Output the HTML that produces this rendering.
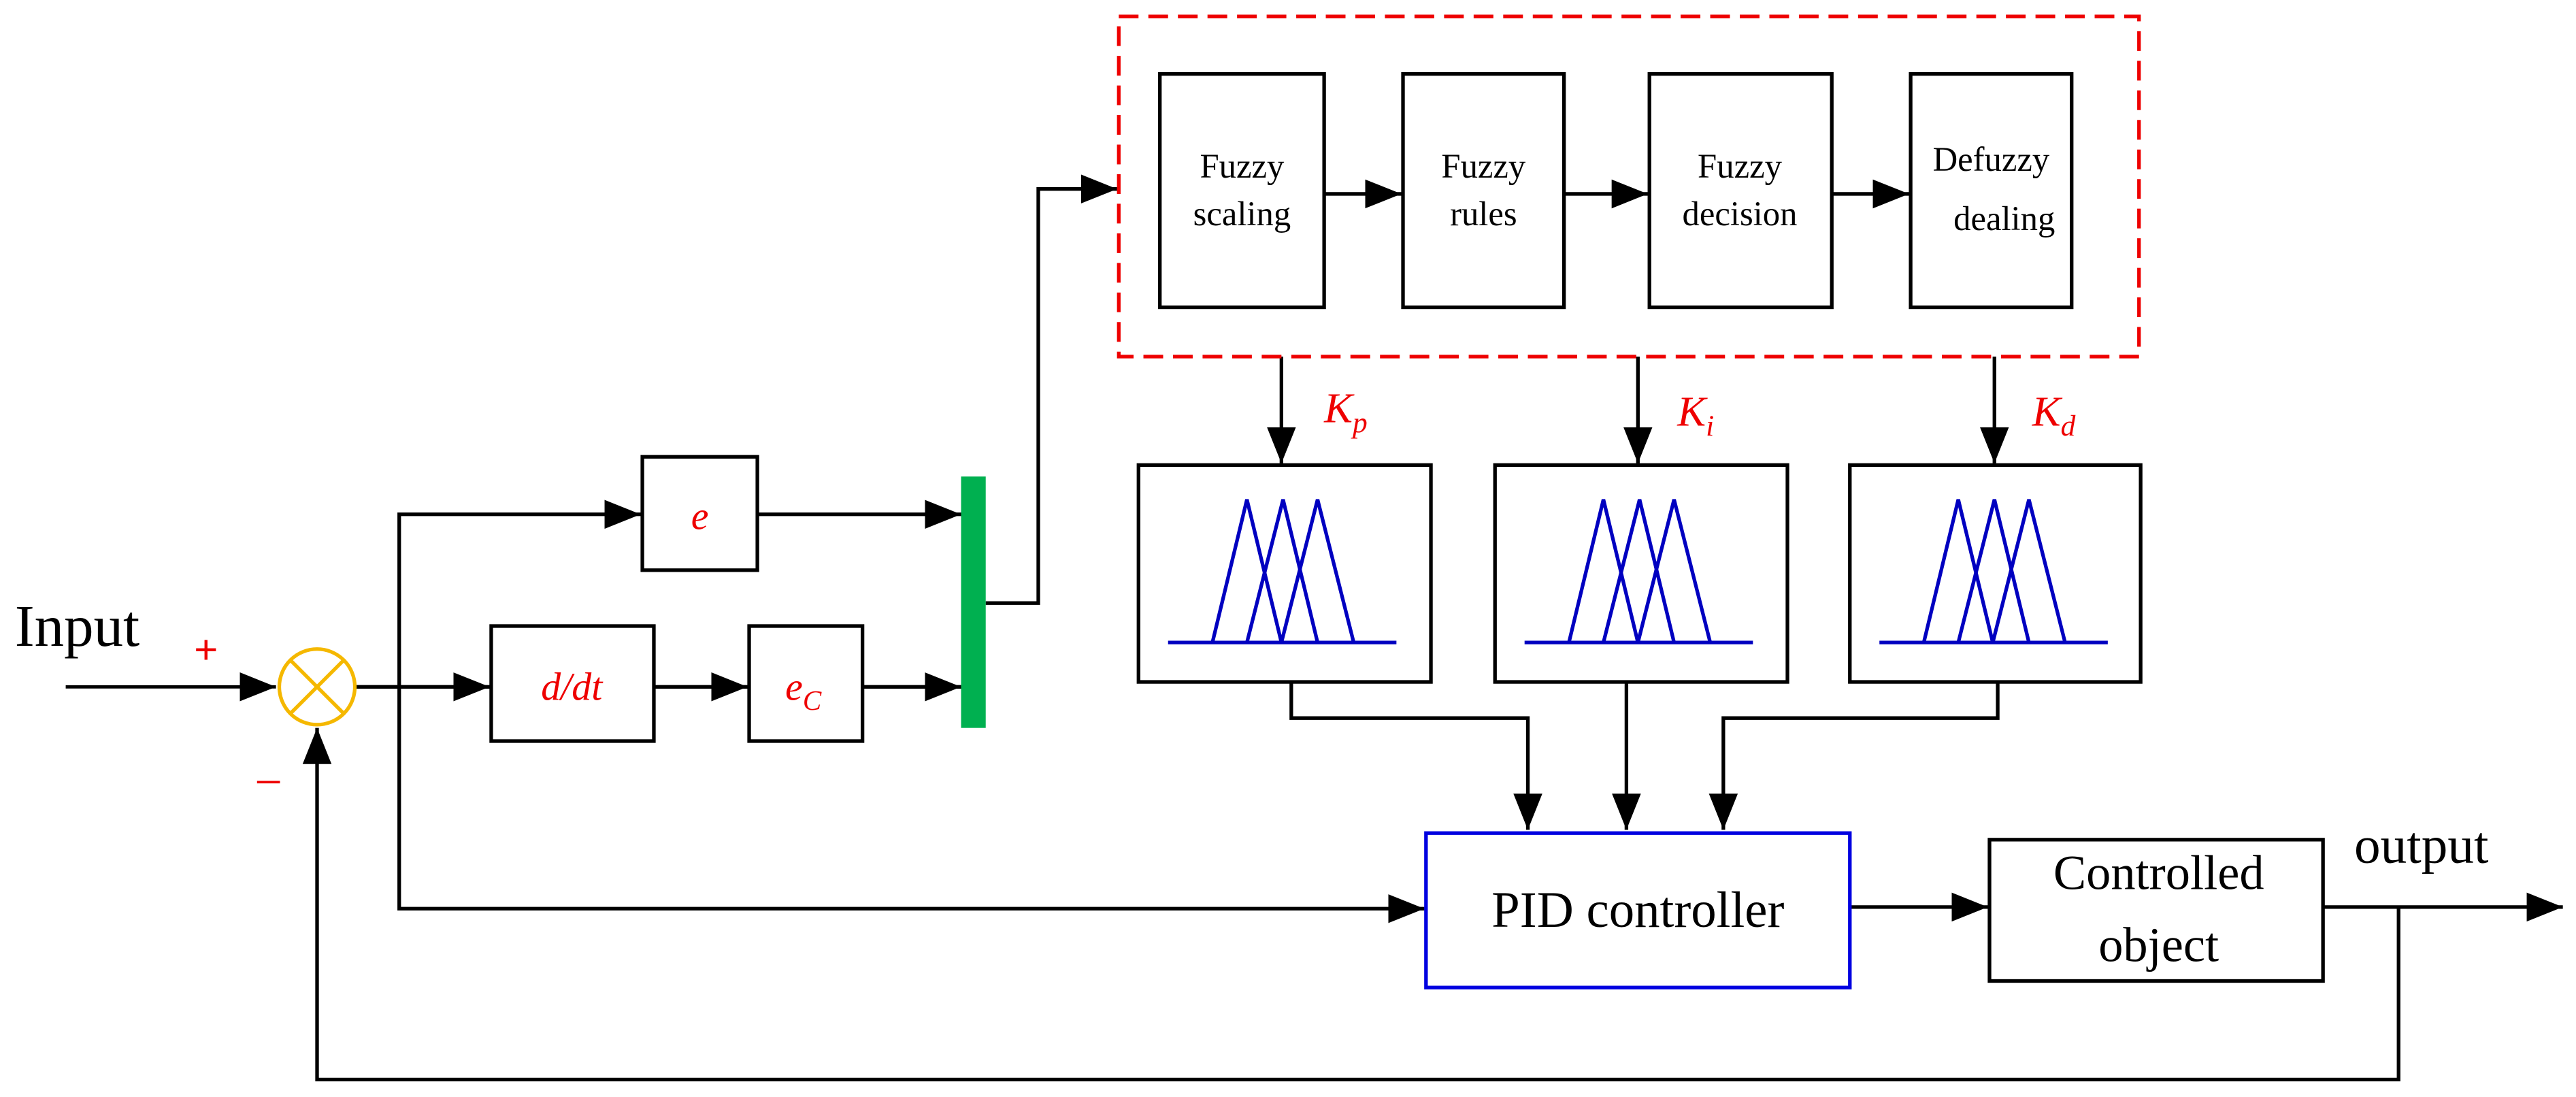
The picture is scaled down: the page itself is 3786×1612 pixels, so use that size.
<!DOCTYPE html>
<html><head><meta charset="utf-8"><style>
html,body{margin:0;padding:0;background:#fff;}
svg{display:block;}
text{font-family:"Liberation Serif",serif;}
</style></head><body>
<svg width="3786" height="1612" viewBox="0 0 1568 667.6" xmlns="http://www.w3.org/2000/svg">
<defs>
<marker id="a" markerWidth="22" markerHeight="18" refX="20" refY="8" orient="auto" markerUnits="userSpaceOnUse" viewBox="0 0 20 16">
<path d="M0,0 L20,8 L0,16 z" fill="#000"/></marker>
</defs>
<rect width="1568" height="668" fill="#fff"/>
<g stroke="#000" stroke-width="2.2" fill="none">
<path d="M40,418 H168" marker-end="url(#a)" stroke-width="2"/>
<path d="M216,418 H298" marker-end="url(#a)"/>
<path d="M243,418 V313 H390" marker-end="url(#a)"/>
<path d="M243,418 V553 H867" marker-end="url(#a)"/>
<path d="M461,313 H585" marker-end="url(#a)"/>
<path d="M398,418 H455" marker-end="url(#a)"/>
<path d="M525,418 H585" marker-end="url(#a)"/>
<path d="M600,367 H632 V115 H680" marker-end="url(#a)"/>
<rect x="391" y="278" width="70" height="69"/>
<rect x="299" y="381" width="99" height="70"/>
<rect x="456" y="381" width="69" height="70"/>
<rect x="706" y="45" width="100" height="142"/>
<rect x="854" y="45" width="98" height="142"/>
<rect x="1004" y="45" width="111" height="142"/>
<rect x="1163" y="45" width="98" height="142"/>
<path d="M806,118 H853" marker-end="url(#a)"/>
<path d="M952,118 H1003" marker-end="url(#a)"/>
<path d="M1115,118 H1162" marker-end="url(#a)"/>
<path d="M780,217 V282" marker-end="url(#a)"/>
<path d="M997,217 V282" marker-end="url(#a)"/>
<path d="M1214,217 V282" marker-end="url(#a)"/>
<rect x="693" y="283" width="178" height="132"/>
<rect x="910" y="283" width="178" height="132"/>
<rect x="1126" y="283" width="177" height="132"/>
<path d="M786,415 V437 H930 V505" marker-end="url(#a)"/>
<path d="M990,415 V505" marker-end="url(#a)"/>
<path d="M1216,415 V437 H1049 V505" marker-end="url(#a)"/>
<path d="M1126,552 H1210" marker-end="url(#a)"/>
<rect x="1211" y="511" width="203" height="86"/>
<path d="M1414,552 H1560" marker-end="url(#a)"/>
<path d="M1460,552 V657 H193 V443" marker-end="url(#a)"/>
</g>
<rect x="681" y="10" width="621" height="207" fill="none" stroke="#e00" stroke-width="2.2" stroke-dasharray="12,6"/>
<rect x="585" y="290" width="15" height="153" fill="#00b050"/>
<rect x="868" y="507" width="258" height="94" fill="none" stroke="#0000e0" stroke-width="2.2"/>
<circle cx="193" cy="418" r="23" fill="#fff" stroke="#f5b800" stroke-width="2.2"/>
<path d="M177,402 L209,434 M209,402 L177,434" stroke="#f5b800" stroke-width="2.2"/>
<g stroke="#0000c0" stroke-width="2.2" fill="none">
<g id="mf">
<path d="M711,391 H850"/>
<path d="M738,391 L759,304 L780,391"/>
<path d="M759,391 L781,304 L802,391"/>
<path d="M780,391 L802,304 L824,391"/>
</g>
<use href="#mf" x="217"/>
<use href="#mf" x="433"/>
</g>
<text x="9" y="393" font-size="36">Input</text>
<text x="118" y="404" font-size="26" font-weight="bold" fill="#e00" font-family="Liberation Sans,sans-serif">+</text>
<text x="155" y="486" font-size="30" fill="#e00" font-family="Liberation Sans,sans-serif">−</text>
<text x="426" y="322" font-size="24" fill="#e00" font-style="italic" text-anchor="middle">e</text>
<text x="348" y="426" font-size="24" fill="#e00" font-style="italic" text-anchor="middle">d/dt</text>
<text x="478" y="426" font-size="24" fill="#e00" font-style="italic">e<tspan font-size="17" dy="6">C</tspan></text>
<g font-size="21" text-anchor="middle">
<text x="756" y="108">Fuzzy</text><text x="756" y="137">scaling</text>
<text x="903" y="108">Fuzzy</text><text x="903" y="137">rules</text>
<text x="1059" y="108">Fuzzy</text><text x="1059" y="137">decision</text>
<text x="1212" y="104">Defuzzy</text><text x="1220" y="140">dealing</text>
</g>
<g font-size="26" fill="#e00" font-style="italic">
<text x="806" y="257">K<tspan font-size="18" dy="6">p</tspan></text>
<text x="1021" y="259">K<tspan font-size="18" dy="6">i</tspan></text>
<text x="1237" y="259">K<tspan font-size="18" dy="6">d</tspan></text>
</g>
<text x="997" y="564" font-size="31" text-anchor="middle">PID controller</text>
<text x="1314" y="541" font-size="30" text-anchor="middle">Controlled</text>
<text x="1314" y="585" font-size="30" text-anchor="middle">object</text>
<text x="1433" y="525" font-size="32">output</text>
</svg>
</body></html>
